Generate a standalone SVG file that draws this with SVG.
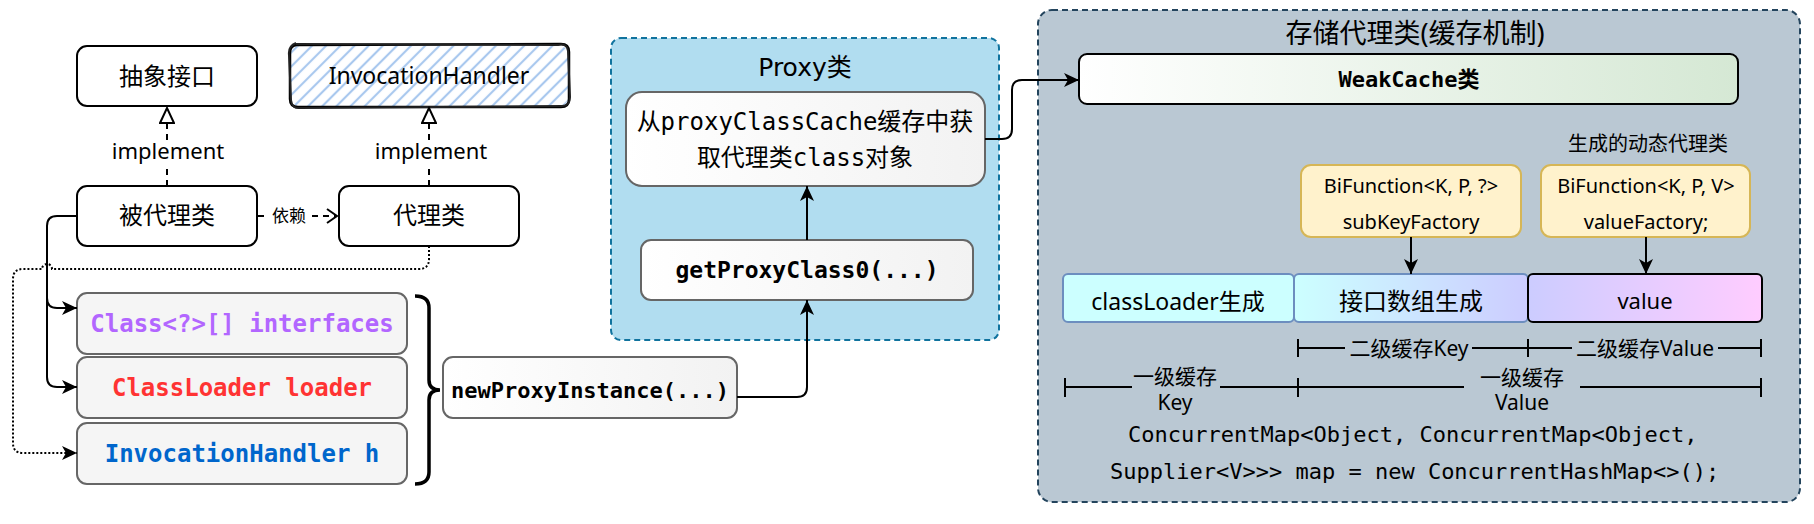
<svg xmlns="http://www.w3.org/2000/svg" width="1814" height="524" viewBox="0 0 1814 524">
<style>
.hand{font-family:"Noto Sans","Noto Sans CJK SC",sans-serif;fill:#000;text-anchor:middle}
.mono{font-family:"DejaVu Sans Mono","Noto Sans CJK SC",monospace;fill:#000;text-anchor:middle}
.monob{font-family:"DejaVu Sans Mono","Noto Sans CJK SC",monospace;font-weight:bold;text-anchor:middle}
.wbox{fill:#fff;stroke:#000;stroke-width:2}
.gbox{fill:#f5f5f5;stroke:#666;stroke-width:2}
.ybox{fill:#fff2cc;stroke:#d6b656;stroke-width:2}
.ln{fill:none;stroke:#000;stroke-width:2}
.dash{fill:none;stroke:#000;stroke-width:2;stroke-dasharray:6 5}
.dot{fill:none;stroke:#000;stroke-width:2;stroke-dasharray:2 2}
.tick{fill:none;stroke:#000;stroke-width:2}
</style>
<defs>
<marker id="arr" markerUnits="userSpaceOnUse" markerWidth="16" markerHeight="14" refX="15" refY="7" orient="auto"><path d="M0,0 L15,7 L0,14 L4,7 Z" fill="#000"/></marker>
<marker id="open" markerUnits="userSpaceOnUse" markerWidth="14" markerHeight="16" refX="11" refY="8" orient="auto"><path d="M1,1 L11,8 L1,15" fill="none" stroke="#000" stroke-width="2"/></marker>
<marker id="tri" markerUnits="userSpaceOnUse" markerWidth="18" markerHeight="16" refX="16" refY="8" orient="auto"><path d="M1,1 L16,8 L1,15 Z" fill="#fff" stroke="#000" stroke-width="2"/></marker>
<pattern id="hatch" patternUnits="userSpaceOnUse" width="10" height="10" patternTransform="rotate(45)"><line x1="3" y1="0" x2="3" y2="10" stroke="#a9c8ee" stroke-width="2.2"/></pattern>
<linearGradient id="gw" x1="0" y1="0" x2="1" y2="0"><stop offset="0" stop-color="#ffffff"/><stop offset="1" stop-color="#f2f2f2"/></linearGradient>
<linearGradient id="gweak" x1="0" y1="0" x2="1" y2="0"><stop offset="0" stop-color="#ffffff"/><stop offset="1" stop-color="#d5e8d4"/></linearGradient>
<linearGradient id="gint" x1="0" y1="0" x2="1" y2="0"><stop offset="0" stop-color="#ccffff"/><stop offset="1" stop-color="#ccccff"/></linearGradient>
<linearGradient id="gval" x1="0" y1="0" x2="1" y2="0"><stop offset="0" stop-color="#ccccff"/><stop offset="1" stop-color="#ffccff"/></linearGradient>
</defs>

<!-- containers -->
<g id="proxy-container">
<rect x="611" y="38" width="388" height="302" rx="10" fill="#b1ddf0" stroke="#10739e" stroke-width="2" stroke-dasharray="6 4"/>
<text class="hand" x="805" y="76" style="font-family:'DejaVu Sans','Noto Sans CJK SC',sans-serif;font-size:25px">Proxy类</text>
</g>
<g id="cache-container">
<rect x="1038" y="10" width="762" height="492" rx="14" fill="#bac8d3" stroke="#23445d" stroke-width="2" stroke-dasharray="6 4"/>
<text class="hand" x="1415" y="43" style="font-size:27px">存储代理类(缓存机制)</text>
</g>

<!-- left nodes -->
<g id="abstract-interface">
<rect class="wbox" x="77" y="46" width="180" height="60" rx="10"/>
<text class="hand" x="167" y="85" style="font-size:24px">抽象接口</text>
</g>
<g id="invocation-handler-iface">
<rect x="291" y="46" width="277" height="60" rx="8" fill="url(#hatch)"/>
<path d="M297,45 Q290,45 290,53 L290,99 Q290,107 298,107 L561,107 Q569,107 569,99 L569,52 Q569,44 561,44 Z" fill="none" stroke="#000" stroke-width="2.5"/>
<path d="M296,43 Q288,46 289,55 L291,100 Q292,109 300,108 L562,106 Q570,106 570,97 L568,51 Q567,43 558,45 L296,44" fill="none" stroke="#222" stroke-width="2"/>
<text class="hand" x="429" y="84" style="font-size:23px">InvocationHandler</text>
</g>
<g id="real-subject">
<rect class="wbox" x="77" y="186" width="180" height="60" rx="10"/>
<text class="hand" x="167" y="224" style="font-size:24px">被代理类</text>
</g>
<g id="proxy-class">
<rect class="wbox" x="339" y="186" width="180" height="60" rx="10"/>
<text class="hand" x="429" y="224" style="font-size:24px">代理类</text>
</g>
<g id="param-interfaces">
<rect class="gbox" x="77" y="293" width="330" height="61" rx="10"/>
<text class="monob" x="242" y="332" style="font-size:24px;fill:#b266ff">Class&lt;?&gt;[] interfaces</text>
</g>
<g id="param-loader">
<rect class="gbox" x="77" y="357" width="330" height="61" rx="10"/>
<text class="monob" x="242" y="396" style="font-size:24px;fill:#ff3333">ClassLoader loader</text>
</g>
<g id="param-handler">
<rect class="gbox" x="77" y="423" width="330" height="61" rx="10"/>
<text class="monob" x="242" y="462" style="font-size:24px;fill:#0066cc">InvocationHandler h</text>
</g>
<g id="brace">
<path d="M415,296 Q429,296 429,308 L429,380 Q429,390 440,390 Q429,390 429,400 L429,472 Q429,484 415,484" fill="none" stroke="#000" stroke-width="3.5"/>
</g>
<g id="new-proxy-instance">
<rect class="gbox" x="443" y="357" width="294" height="61" rx="10" style="fill:url(#gw)"/>
<text class="monob" x="590" y="398" style="font-size:22px;fill:#000">newProxyInstance(...)</text>
</g>

<!-- proxy section nodes -->
<g id="get-from-cache">
<rect class="gbox" x="626" y="92" width="359" height="94" rx="16" style="fill:url(#gw)"/>
<text class="mono" x="805" y="130" style="font-size:24px">从proxyClassCache缓存中获</text>
<text class="mono" x="805" y="166" style="font-size:24px">取代理类class对象</text>
</g>
<g id="get-proxy-class0">
<rect class="gbox" x="641" y="240" width="332" height="60" rx="10" style="fill:url(#gw)"/>
<text class="monob" x="807" y="278" style="font-size:23px;fill:#000">getProxyClass0(...)</text>
</g>

<!-- cache section nodes -->
<g id="weakcache">
<rect x="1079" y="54" width="659" height="50" rx="8" fill="url(#gweak)" stroke="#000" stroke-width="2"/>
<text class="monob" x="1409" y="87" style="font-size:22px;fill:#000">WeakCache类</text>
</g>
<g id="dynamic-proxy-label">
<text class="hand" x="1648" y="151" style="font-size:20px">生成的动态代理类</text>
</g>
<g id="subkey-factory">
<rect class="ybox" x="1301" y="165" width="220" height="72" rx="10"/>
<text class="hand" x="1411" y="193" style="font-size:20px">BiFunction&lt;K, P, ?&gt;</text>
<text class="hand" x="1411" y="229" style="font-size:20px">subKeyFactory</text>
</g>
<g id="value-factory">
<rect class="ybox" x="1541" y="165" width="209" height="72" rx="10"/>
<text class="hand" x="1646" y="193" style="font-size:20px">BiFunction&lt;K, P, V&gt;</text>
<text class="hand" x="1646" y="229" style="font-size:20px">valueFactory;</text>
</g>
<g id="classloader-gen">
<rect x="1063" y="274" width="231" height="48" rx="5" fill="#ccffff" stroke="#6c8ebf" stroke-width="2"/>
<text class="hand" x="1178" y="310" style="font-size:23px">classLoader生成</text>
</g>
<g id="interfaces-gen">
<rect x="1294" y="274" width="234" height="48" rx="5" fill="url(#gint)" stroke="#6c8ebf" stroke-width="2"/>
<text class="hand" x="1411" y="310" style="font-size:24px">接口数组生成</text>
</g>
<g id="value">
<rect x="1528" y="274" width="234" height="48" rx="5" fill="url(#gval)" stroke="#000" stroke-width="2"/>
<text class="hand" x="1645" y="309" style="font-size:22px">value</text>
</g>
<g id="dim-l2-key">
<path class="tick" d="M1298,339 V357 M1298,348 H1345 M1472,348 H1528"/>
<text class="hand" x="1409" y="356" style="font-size:21px">二级缓存Key</text>
</g>
<g id="dim-l2-value">
<path class="tick" d="M1528,339 V357 M1761,339 V357 M1528,348 H1572 M1718,348 H1761"/>
<text class="hand" x="1645" y="356" style="font-size:21px">二级缓存Value</text>
</g>
<g id="dim-l1-key">
<path class="tick" d="M1065,378 V397 M1065,387 H1132 M1220,387 H1298 M1298,378 V397"/>
<text class="hand" x="1175" y="384" style="font-size:21px">一级缓存</text>
<text class="hand" x="1175" y="410" style="font-size:21px">Key</text>
</g>
<g id="dim-l1-value">
<path class="tick" d="M1298,387 H1464 M1580,387 H1761 M1761,378 V397"/>
<text class="hand" x="1522" y="385" style="font-size:21px">一级缓存</text>
<text class="hand" x="1522" y="410" style="font-size:21px">Value</text>
</g>
<g id="map-code">
<text class="mono" x="1128" y="442" style="font-size:22px;text-anchor:start">ConcurrentMap&lt;Object, ConcurrentMap&lt;Object,</text>
<text class="mono" x="1110" y="479" style="font-size:22px;text-anchor:start">Supplier&lt;V&gt;&gt;&gt; map = new ConcurrentHashMap&lt;&gt;();</text>
</g>

<!-- connectors -->
<g id="connectors">
<path class="dash" d="M167,186 V165"/>
<path class="dash" d="M167,140 V108" marker-end="url(#tri)"/>
<text class="hand" x="168" y="159" style="font-size:22px">implement</text>
<path class="dash" d="M429,186 V165"/>
<path class="dash" d="M429,140 V108" marker-end="url(#tri)"/>
<text class="hand" x="431" y="159" style="font-size:22px">implement</text>
<path class="dash" d="M258,216 H267"/>
<path class="dash" d="M312,216 H337" marker-end="url(#open)"/>
<text class="hand" x="289" y="222" style="font-size:17px">依赖</text>
<path class="ln" d="M77,216 H57 Q47,216 47,226 V377 Q47,387 57,387 H77" marker-end="url(#arr)"/>
<path class="ln" d="M47,298 Q47,308 57,308 H77" marker-end="url(#arr)"/>
<path class="dot" d="M429,246 V259 Q429,269 419,269 H52 A5,5 0 0 0 42,269 H23 Q13,269 13,279 V443 Q13,453 23,453 H77" marker-end="url(#arr)"/>
<path class="ln" d="M737,397 H797 Q807,397 807,387 V300" marker-end="url(#arr)"/>
<path class="ln" d="M807,240 V186" marker-end="url(#arr)"/>
<path class="ln" d="M985,139 H1002 Q1012,139 1012,129 V90 Q1012,80 1022,80 H1079" marker-end="url(#arr)"/>
<path class="ln" d="M1411,237 V274" marker-end="url(#arr)"/>
<path class="ln" d="M1646,237 V274" marker-end="url(#arr)"/>
</g>
</svg>
